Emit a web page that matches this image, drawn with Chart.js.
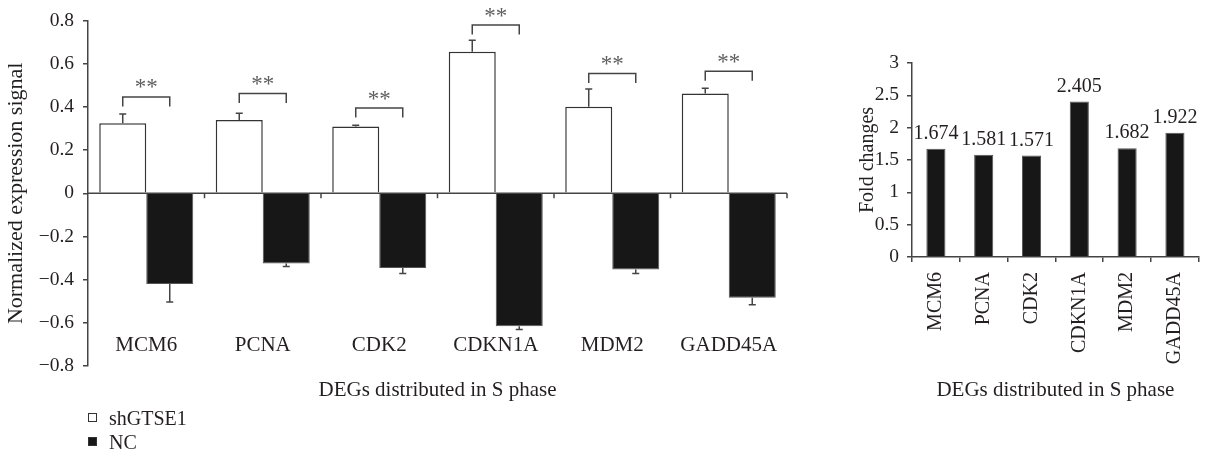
<!DOCTYPE html>
<html lang="en">

<head>
    <meta charset="UTF-8">
    <script src="https://cdn.jsdelivr.net/npm/chart.js"></script>
    <title>DEGs distributed in S phase</title>
    <style>
        body { margin: 0; background: #fff; }
        .painel { position: absolute; top: 0; }
        .legenda { position: absolute; left: 88px; font: 20px 'Liberation Serif', serif; color: #231f20; }
        .legenda span.q { display: inline-block; width: 7px; height: 7px; border: 1px solid #333; margin-right: 12px; vertical-align: 3px; }
    </style>
</head>

<body>
    <canvas id="grafEsq" class="painel" style="left:0" width="850" height="456"></canvas>
    <canvas id="grafDir" class="painel" style="left:850px" width="359" height="456"></canvas>

    <div class="legenda" style="top:407px"><span class="q" style="background:#fff"></span>shGTSE1</div>
    <div class="legenda" style="top:431px"><span class="q" style="background:#171717"></span>NC</div>

<script>
    // dados
    const genes = ['MCM6', 'PCNA', 'CDK2', 'CDKN1A', 'MDM2', 'GADD45A'];
    const shGTSE1 = [0.325, 0.340, 0.310, 0.656, 0.401, 0.463];
    const erroShGTSE1 = [0.043, 0.031, 0.006, 0.053, 0.083, 0.024];
    const nc = [-0.420, -0.325, -0.346, -0.616, -0.353, -0.484];
    const erroNc = [0.083, 0.014, 0.025, 0.015, 0.018, 0.032];
    const alturaChave = [0.447, 0.463, 0.395, 0.780, 0.555, 0.566];
    const foldChanges = [1.674, 1.581, 1.571, 2.405, 1.682, 1.922];
    const ticksEsq = [-0.8, -0.6, -0.4, -0.2, 0, 0.2, 0.4, 0.6, 0.8];

    const fonte = "'Liberation Serif', 'Times New Roman', serif";
    const corTexto = '#231f20';
    const corEixo = '#444';

    Chart.defaults.font.family = fonte;
    Chart.defaults.color = corTexto;

    function formatarEsq(v) {
        if (Math.abs(v) < 1e-9) return '0';
        return (v < 0 ? '\u2212' : '') + Math.abs(v).toFixed(1);
    }

    // linha do zero, barras de erro, chaves e asteriscos
    const marcasEsq = {
        id: 'marcasEsq',
        afterDatasetsDraw(chart) {
            const ctx = chart.ctx;
            const area = chart.chartArea;
            const y = chart.scales.y;
            const y0 = y.getPixelForValue(0);
            const branco = chart.getDatasetMeta(0).data;
            const preto = chart.getDatasetMeta(1).data;

            ctx.save();
            ctx.strokeStyle = corEixo;
            ctx.lineWidth = 1.5;

            // eixo horizontal no zero
            ctx.beginPath();
            ctx.moveTo(area.left, y0);
            ctx.lineTo(area.right, y0);
            const passo = (area.right - area.left) / genes.length;
            for (let i = 1; i <= genes.length; i++) {
                ctx.moveTo(area.left + i * passo, y0);
                ctx.lineTo(area.left + i * passo, y0 + 5);
            }
            ctx.stroke();

            for (let i = 0; i < genes.length; i++) {
                // erro para cima (shGTSE1)
                let xb = branco[i].x;
                let yTopo = y.getPixelForValue(shGTSE1[i]);
                let yErro = y.getPixelForValue(shGTSE1[i] + erroShGTSE1[i]);
                ctx.beginPath();
                ctx.moveTo(xb, yTopo);
                ctx.lineTo(xb, yErro);
                ctx.moveTo(xb - 3.5, yErro);
                ctx.lineTo(xb + 3.5, yErro);
                ctx.stroke();

                // erro para baixo (NC)
                let xp = preto[i].x;
                let yFundo = y.getPixelForValue(nc[i]);
                let yErro2 = y.getPixelForValue(nc[i] - erroNc[i]);
                ctx.beginPath();
                ctx.moveTo(xp, yFundo);
                ctx.lineTo(xp, yErro2);
                ctx.moveTo(xp - 3.5, yErro2);
                ctx.lineTo(xp + 3.5, yErro2);
                ctx.stroke();

                // chave de significancia
                let yc = y.getPixelForValue(alturaChave[i]);
                ctx.beginPath();
                ctx.moveTo(xb, yc + 9.5);
                ctx.lineTo(xb, yc);
                ctx.lineTo(xp, yc);
                ctx.lineTo(xp, yc + 9.5);
                ctx.stroke();

                ctx.fillStyle = '#5e5e5e';
                ctx.font = '23px ' + fonte;
                ctx.textAlign = 'center';
                ctx.textBaseline = 'bottom';
                ctx.fillText('**', (xb + xp) / 2, yc + 3);
            }
            ctx.restore();
        }
    };

    // valores em cima das barras
    const rotulosDir = {
        id: 'rotulosDir',
        afterDatasetsDraw(chart) {
            const ctx = chart.ctx;
            const barras = chart.getDatasetMeta(0).data;
            ctx.save();
            ctx.fillStyle = corTexto;
            ctx.font = '20px ' + fonte;
            ctx.textAlign = 'center';
            ctx.textBaseline = 'bottom';
            for (let i = 0; i < barras.length; i++) {
                ctx.fillText(foldChanges[i].toFixed(3), barras[i].x, barras[i].y - 5);
            }
            ctx.restore();
        }
    };

    new Chart(document.getElementById('grafEsq'), {
        type: 'bar',
        data: {
            labels: genes,
            datasets: [{
                label: 'shGTSE1',
                data: shGTSE1,
                backgroundColor: '#ffffff',
                borderColor: '#333',
                borderWidth: 1.5
            }, {
                label: 'NC',
                data: nc,
                backgroundColor: '#171717',
                borderColor: '#555',
                borderWidth: 1
            }]
        },
        options: {
            responsive: false,
            animation: false,
            layout: { padding: { top: 18, right: 63, left: 0, bottom: 0 } },
            datasets: { bar: { categoryPercentage: 0.807, barPercentage: 1 } },
            plugins: { legend: { display: false }, tooltip: { enabled: false } },
            scales: {
                x: {
                    grid: { display: false },
                    border: { display: false },
                    // mirror: rotulos ficam dentro da area, como no original
                    ticks: { mirror: true, autoSkip: false, maxRotation: 0, padding: 8, font: { size: 21 }, color: corTexto },
                    title: { display: true, text: 'DEGs distributed in S phase', font: { size: 21 }, color: corTexto, padding: { top: 0, bottom: 53 } },
                    afterFit(scale) { scale.height = 90; }
                },
                y: {
                    min: -0.8,
                    max: 0.8,
                    afterBuildTicks(scale) { scale.ticks = ticksEsq.map(v => ({ value: v })); },
                    ticks: { callback: formatarEsq, font: { size: 19.5 }, color: corTexto, padding: 9 },
                    grid: { display: true, drawOnChartArea: false, tickLength: 5, color: corEixo, lineWidth: 1.5 },
                    border: { display: true, color: corEixo, width: 1.5 },
                    title: { display: true, text: 'Normalized expression signal', font: { size: 22 }, color: corTexto, padding: { top: 3, bottom: 0 } },
                    afterFit(scale) { scale.width = 88; }
                }
            }
        },
        plugins: [marcasEsq]
    });

    new Chart(document.getElementById('grafDir'), {
        type: 'bar',
        data: {
            labels: genes,
            datasets: [{
                label: 'Fold changes',
                data: foldChanges,
                backgroundColor: '#171717',
                borderColor: '#555',
                borderWidth: 1
            }]
        },
        options: {
            responsive: false,
            animation: false,
            layout: { padding: { top: 63, right: 1, left: 0, bottom: 0 } },
            datasets: { bar: { categoryPercentage: 0.4, barPercentage: 1 } },
            plugins: { legend: { display: false }, tooltip: { enabled: false } },
            scales: {
                x: {
                    grid: { display: true, drawOnChartArea: false, offset: true, tickLength: 5, color: corEixo, lineWidth: 1.5 },
                    border: { display: true, color: corEixo, width: 1.5 },
                    ticks: { autoSkip: false, minRotation: 90, maxRotation: 90, padding: 10, font: { size: 20 }, color: corTexto },
                    title: { display: true, text: 'DEGs distributed in S phase', font: { size: 21 }, color: corTexto, padding: { top: 0, bottom: 53 } },
                    afterFit(scale) { scale.height = 199; }
                },
                y: {
                    min: 0,
                    max: 3,
                    ticks: { stepSize: 0.5, callback: v => String(v), font: { size: 19.5 }, color: corTexto, padding: 8 },
                    grid: { display: true, drawOnChartArea: false, tickLength: 5, color: corEixo, lineWidth: 1.5 },
                    border: { display: true, color: corEixo, width: 1.5 },
                    title: { display: true, text: 'Fold changes', font: { size: 20 }, color: corTexto, padding: { top: 6, bottom: 0 } },
                    afterFit(scale) { scale.width = 62; }
                }
            }
        },
        plugins: [rotulosDir]
    });
</script>
</body>

</html>
